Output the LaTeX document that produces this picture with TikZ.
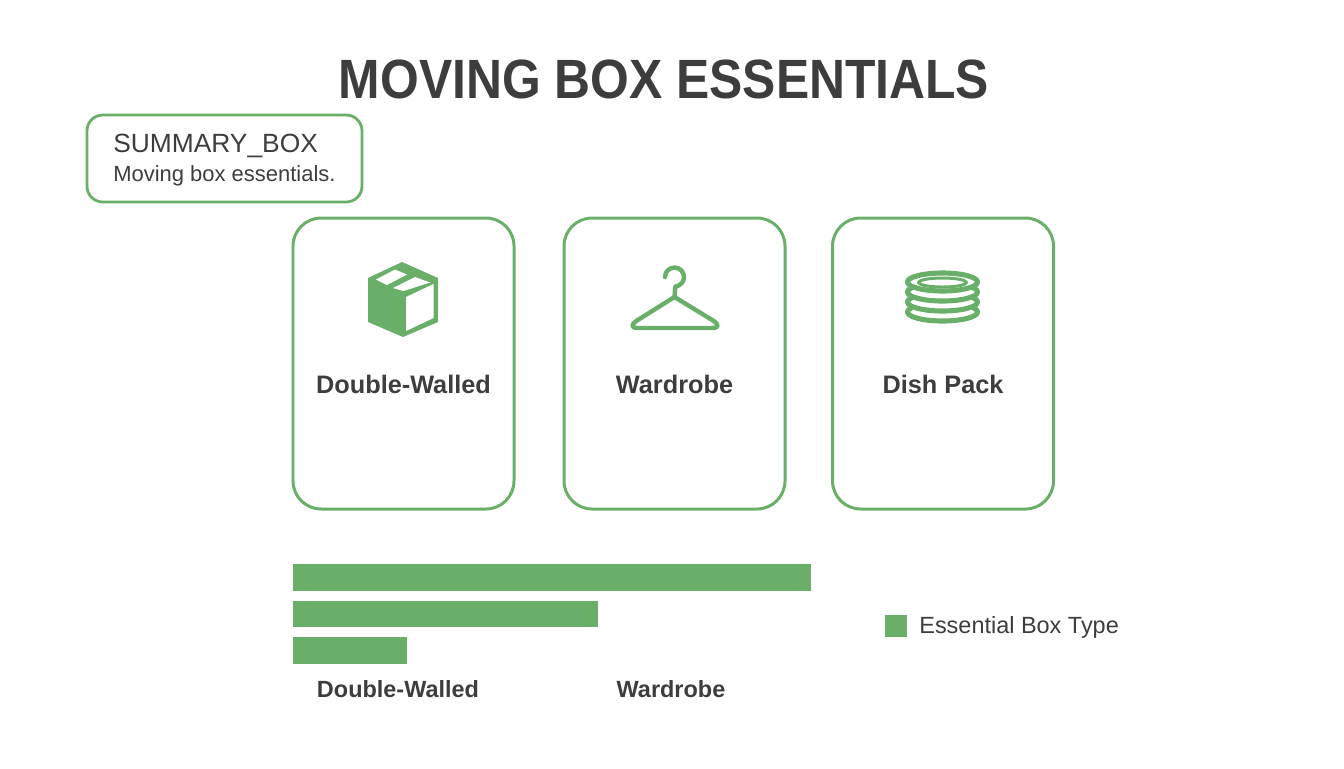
\documentclass[tikz,border=0pt]{standalone}
\usepackage{fontspec}
\setmainfont{Liberation Sans}
\newfontfamily\titlefont[FakeStretch=0.9]{Liberation Sans}
\definecolor{boxgreen}{HTML}{6AAF69}
\definecolor{inkgray}{HTML}{3D3D3D}
\tikzset{
  card/.style={draw=boxgreen, line width=1.7pt, rounded corners=16pt, fill=white, minimum width=221\myunit, minimum height=291\myunit, inner sep=0pt},
  bar/.style={fill=boxgreen, draw=none, anchor=north west, minimum height=26.5\myunit, inner sep=0pt},
  cardlabel/.style={text=inkgray, font=\fontsize{14.4}{17}\selectfont\bfseries},
  barlabel/.style={text=inkgray, font=\fontsize{13.35}{16}\selectfont\bfseries},
  icon/.style={draw=boxgreen, line width=2.5pt, line cap=round, line join=round},
}
\newcommand{\myunit}{*0.02cm}
\begin{document}
\begin{tikzpicture}[x=0.02cm, y=-0.02cm]
\useasboundingbox (0,0) rectangle (1344,768);

\node[text=inkgray, font=\fontsize{31.5}{38}\titlefont\bfseries] (title) at (664,79) {MOVING BOX ESSENTIALS};

\node[draw=boxgreen, line width=1.6pt, rounded corners=9pt, minimum width=275\myunit, minimum height=87\myunit, inner sep=0pt] (summary) at (224.5,158.5) {};
\node[anchor=west, inner sep=0pt, text=inkgray, font=\fontsize{15}{18}\selectfont] (summary_head) at (113,146) {SUMMARY\_BOX};
\node[anchor=west, inner sep=0pt, text=inkgray, font=\fontsize{12.5}{15}\selectfont] (summary_text) at (113,176) {Moving box essentials.};

\foreach \i/\x/\t in%
    {0/403.5/Double-Walled,
     1/674.5/Wardrobe,
     2/943/Dish Pack} {
  \node[card] (card_\i) at (\x,363.5) {};
  \node[cardlabel] (label_\i) at (\x,384.5) {\t};
}

% box icon
\fill[boxgreen] (368,278) -- (402,262) -- (438,278) -- (438,322) -- (403,337) -- (368,322) -- cycle;
\fill[white] (406,297) -- (433.5,284) -- (433.5,318) -- (406,331) -- cycle;
\fill[white] (376,279.5) -- (395,269.5) -- (407,274.5) -- (387,285) -- cycle;
\fill[white] (393,288) -- (415,277) -- (430,282.5) -- (403.5,291) -- cycle;

% hanger icon
\draw[icon] (665,277) arc[start angle=180, end angle=445, radius=9.5] -- (674.5,297);
\draw[icon] (674.5,297) -- (637,320.5) .. controls (630,325) and (632,328) .. (637,328) -- (713,328) .. controls (718,328) and (720,325) .. (713,320.5) -- cycle;

% plates icon
\foreach \y in {312,302,292,282} {
  \draw[icon, line width=2.9pt, fill=white] (942.5,\y) ellipse[x radius=35, y radius=9];
}
\draw[icon, line width=1.7pt] (942.5,282.5) ellipse[x radius=24, y radius=4.5];

\foreach \i/\y/\w in%
    {0/564/518,
     1/600.5/304.5,
     2/637/113.5} {
  \node[bar, minimum width=\w\myunit] (bar_\i) at (293,\y) {};
}

\node[barlabel] (bar_text_0) at (398,689) {Double-Walled};
\node[barlabel] (bar_text_1) at (671,689) {Wardrobe};

\node[fill=boxgreen, minimum size=22.5\myunit, inner sep=0pt] (legend_key) at (896,626) {};
\node[anchor=west, inner sep=0pt, text=inkgray, font=\fontsize{13.35}{16}\selectfont] (legend_text) at (919,627) {Essential Box Type};

\end{tikzpicture}
\end{document}
